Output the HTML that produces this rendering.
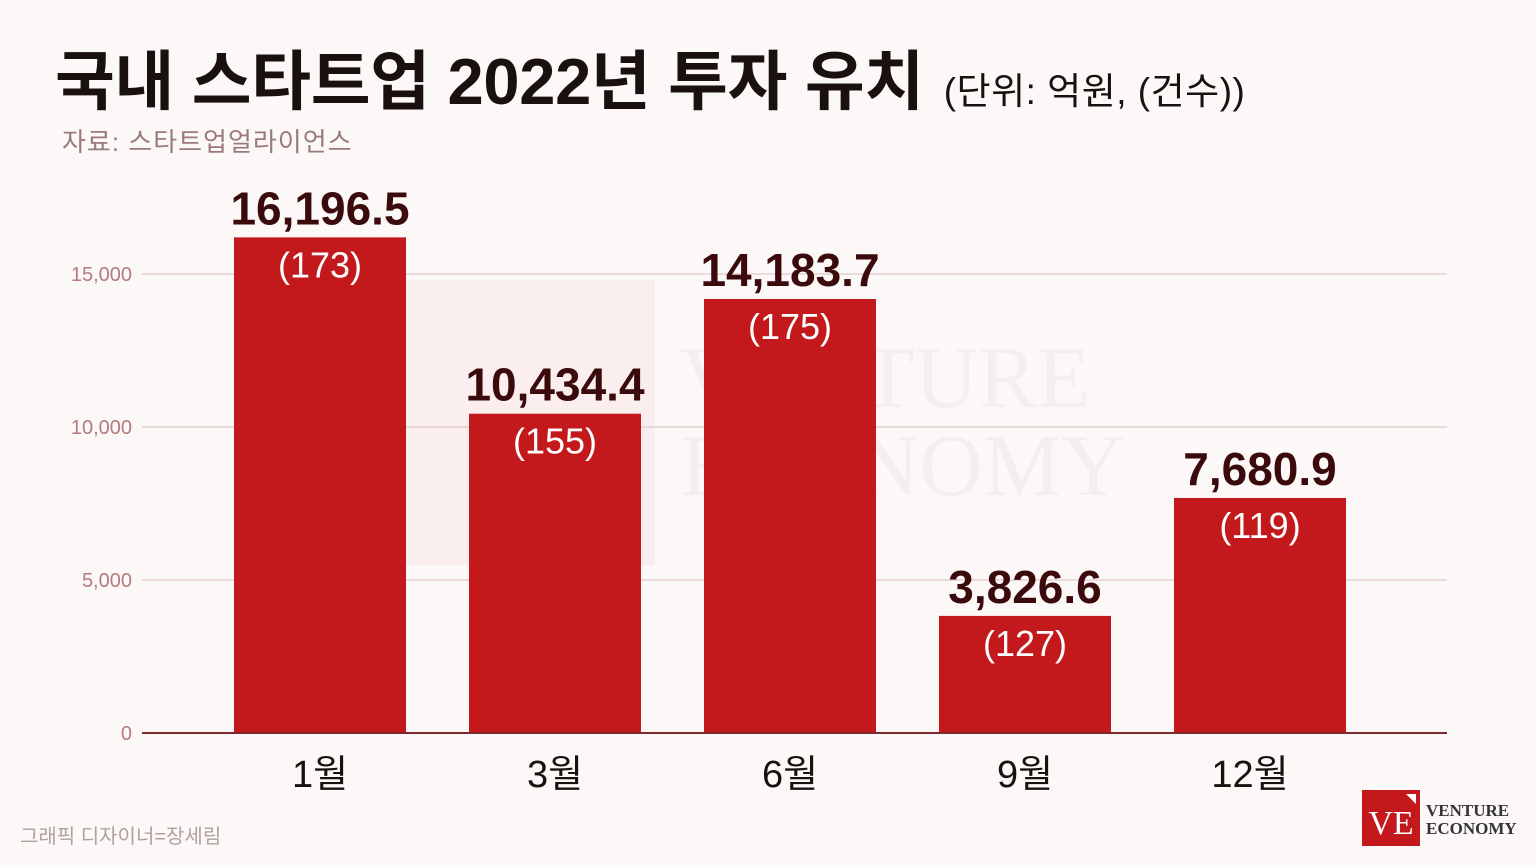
<!DOCTYPE html>
<html><head><meta charset="utf-8"><style>
html,body{margin:0;padding:0;background:#fcf8f7;}
svg{display:block;font-family:"Liberation Sans","Noto Sans CJK KR",sans-serif;}
</style></head><body>
<svg id="chart" width="1536" height="865" viewBox="0 0 1536 865">
<rect x="0" y="0" width="1536" height="865" fill="#fcf8f7"/>
<g opacity="0.5">
<rect x="405" y="280" width="250" height="285" fill="#f8e6e6"/>
<text x="680" y="407" font-family="Liberation Serif,serif" font-size="88" fill="#efe6e6">VENTURE</text>
<text x="680" y="495" font-family="Liberation Serif,serif" font-size="88" fill="#efe6e6">ECONOMY</text>
</g>
<text x="55" y="104" font-size="65" font-weight="bold" fill="#1a1010" letter-spacing="-0.3">국내 스타트업 2022년 투자 유치 <tspan font-size="37" font-weight="normal" dx="2" letter-spacing="0.5">(단위: 억원, (건수))</tspan></text>
<text x="62" y="151" font-size="26" fill="#9a7a7a" letter-spacing="1">자료: 스타트업얼라이언스</text>
<g id="grid"></g>
<g id="bars"></g>
<text x="20" y="843" font-size="20" fill="#b0a0a0">그래픽 디자이너=장세림</text>
<g>
<rect x="1362" y="790" width="58" height="56" fill="#c4191c"/>
<polygon points="1406,794 1416,794 1416,804" fill="#fff"/>
<text x="1391" y="834" text-anchor="middle" font-family="Liberation Serif,serif" font-size="34" fill="#fff">VE</text>
<text x="1426" y="816" font-family="Liberation Serif,serif" font-size="17" font-weight="bold" fill="#333">VENTURE</text>
<text x="1426" y="834" font-family="Liberation Serif,serif" font-size="17" font-weight="bold" fill="#333">ECONOMY</text>
</g>
</svg>
<script>
const categories=["1월","3월","6월","9월","12월"];
const values=[16196.5,10434.4,14183.7,3826.6,7680.9];
const counts=[173,155,175,127,119];
const ticks=[0,5000,10000,15000];
const tickLabels=["0","5,000","10,000","15,000"];
const NS="http://www.w3.org/2000/svg";
const y0=733, pxPer=153/5000;
function yScale(v){return y0-v*pxPer;}
function xCenter(i){return 320+i*235;}
const barW=172;
function mk(tag,attrs,parent,text){const e=document.createElementNS(NS,tag);for(const k in attrs)e.setAttribute(k,attrs[k]);if(text!==undefined)e.textContent=text;parent.appendChild(e);return e;}
const grid=document.getElementById('grid');
ticks.forEach((t,i)=>{
  if(t!==0){const l=mk('line',{x1:142,x2:1447,y1:yScale(t),y2:yScale(t),stroke:'#e3cfd0','stroke-width':1.5},grid);
  
  }
  const tx=mk('text',{x:132,y:yScale(t)+7,'text-anchor':'end','font-size':20,fill:'#b57a7c'},grid,tickLabels[i]);
  
  
});
const bars=document.getElementById('bars');
values.forEach((v,i)=>{
  const cx=xCenter(i);
  const r=mk('rect',{x:cx-barW/2,y:yScale(v),width:barW,height:y0-yScale(v),fill:'#c4191c'},bars);
  
  
  const vl=mk('text',{x:cx,y:yScale(v)-13,'text-anchor':'middle','font-size':46,'font-weight':'bold',fill:'#3a0a0c'},bars,v.toLocaleString('en-US',{minimumFractionDigits:1,maximumFractionDigits:1}));
  
  
  const cl=mk('text',{x:cx,y:yScale(v)+40,'text-anchor':'middle','font-size':36,fill:'#ffffff'},bars,'('+counts[i]+')');
  
  
  const xl=mk('text',{x:i===4?cx-10:cx,y:787,'text-anchor':'middle','font-size':38,fill:'#1a1010'},bars,categories[i]);
  
  
});
const ax=mk('line',{x1:142,x2:1447,y1:y0,y2:y0,stroke:'#7a2a2c','stroke-width':2},bars);


</script>
</body></html>
